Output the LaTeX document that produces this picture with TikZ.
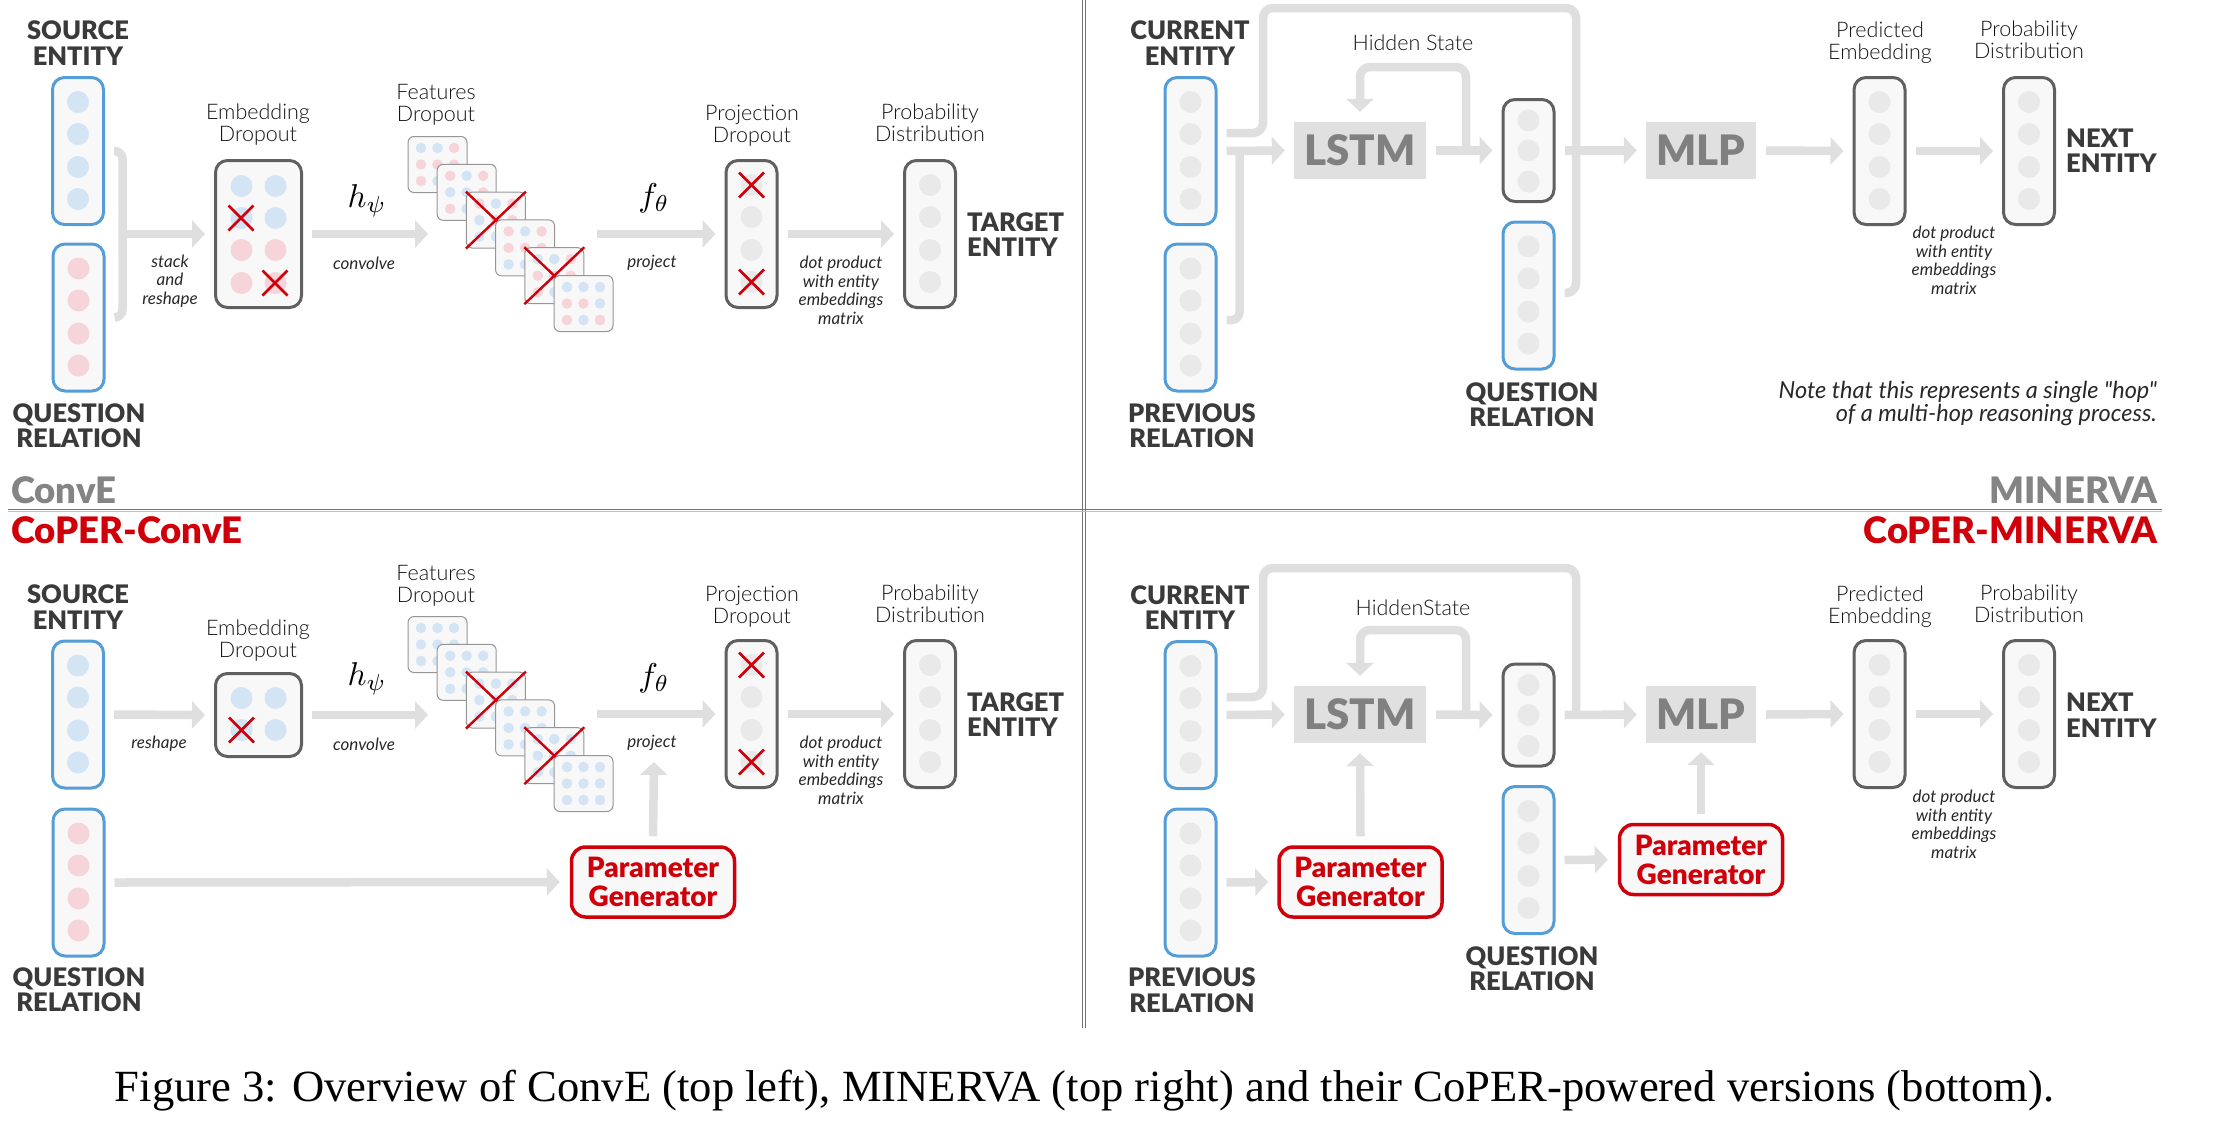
\documentclass[tikz,border=0pt]{standalone}
\usepackage{fontspec}
\usepackage{graphicx}
\setmainfont{Lato}
\newfontfamily\capfont{Liberation Serif}
\newfontfamily\blackfont{Lato Black}
\newfontfamily\lightfont{Lato Light}
\newfontfamily\notefont{Lato}[Ligatures=TeXOff]
\usetikzlibrary{arrows.meta,calc}
\definecolor{eblue}{RGB}{84,157,214}
\definecolor{cB}{RGB}{211,228,245}
\definecolor{cR}{RGB}{246,212,217}
\definecolor{cG}{RGB}{233,233,233}
\definecolor{boxfill}{RGB}{248,248,248}
\definecolor{dgray}{RGB}{96,96,96}
\definecolor{arrg}{RGB}{223,223,223}
\definecolor{cred}{RGB}{208,0,10}
\definecolor{txt}{RGB}{40,40,40}
\definecolor{lbl}{RGB}{20,20,20}
\definecolor{ttl}{RGB}{58,58,58}
\definecolor{lstmf}{RGB}{224,224,224}
\definecolor{lstmt}{RGB}{128,128,128}
\definecolor{hdr}{RGB}{132,132,132}
\definecolor{mapb}{RGB}{150,150,150}
\definecolor{divc}{RGB}{115,115,115}
\newcommand\fourdots[2]{\foreach \o in {-49,-17,16,48}{\fill[#2] ($(#1.center)+(0,\o)$) circle (11pt);}}
\newcommand\threedots[2]{\foreach \o in {-30,0,31}{\fill[#2] ($(#1.center)+(0,\o)$) circle (11pt);}}
\newcommand\redx[2]{\draw[cred,line width=2.6pt] ($(#1,#2)+(-12.5,-12.5)$) -- ($(#1,#2)+(12.5,12.5)$) ($(#1,#2)+(-12.5,12.5)$) -- ($(#1,#2)+(12.5,-12.5)$);}
\newcommand\fmapstack[3]{%
  \foreach \i/\cols/\xx in {#3}{%
    \node[fmap] (#2\i) at ({437.5+29.2*\i},{164.5+27.8*\i+#1}) {};
    \foreach \c [count=\k from 0] in \cols {%
      \pgfmathtruncatemacro\cc{mod(\k,3)}%
      \pgfmathtruncatemacro\rr{div(\k,3)}%
      \fill[\c] ($(#2\i.center)+({(\cc-1)*16.5},{(\rr-1)*16.5})$) circle (5.3pt);
    }
    \ifnum\xx=1 \draw[cred,line width=2.4pt] (#2\i.north west) -- (#2\i.south east) (#2\i.north east) -- (#2\i.south west);\fi
  }}
\begin{document}
\begin{tikzpicture}[x=1pt,y=-1pt,
  vec/.style={draw, rounded corners=12pt, line width=3pt, fill=boxfill, minimum width=51pt, minimum height=147pt, inner sep=0pt},
  bvec/.style={vec, draw=eblue},
  dvec/.style={vec, draw=dgray},
  gar/.style={draw=arrg, line width=8.5pt},
  garr/.style={gar, -{Triangle[length=13pt,width=27pt]}},
  ttlf/.style={font=\blackfont\fontsize{25.5}{25.5}\selectfont, text=ttl, align=center, inner sep=0pt},
  lblf/.style={font=\lightfont\fontsize{21.5}{22}\selectfont, text=lbl, align=center, inner sep=0pt},
  itf/.style={font=\fontsize{17}{18.5}\selectfont\itshape, text=txt, align=center, inner sep=0pt},
  blk/.style={fill=lstmf, text=lstmt, font=\blackfont\fontsize{42}{42}\selectfont, inner sep=0pt, minimum height=57pt},
  pg/.style={draw=cred, line width=3.5pt, rounded corners=14pt, fill=boxfill, text=cred, font=\blackfont\fontsize{28}{29}\selectfont, align=center, inner sep=0pt, minimum width=163pt, minimum height=70pt},
  fmap/.style={draw=mapb, line width=1pt, rounded corners=6pt, fill=boxfill, minimum width=59pt, minimum height=56pt, inner sep=0pt},
  hdrf/.style={font=\blackfont\fontsize{36.5}{36.5}\selectfont, inner sep=0pt},
]
\useasboundingbox (0,0) rectangle (2216,1130);

% ---------- dividers ----------
\draw[divc, line width=0.8pt] (1082.5,0) -- (1082.5,1028);
\draw[divc, line width=0.8pt] (1085.5,0) -- (1085.5,1028);
\draw[divc, line width=1.2pt] (8,509.5) -- (2162,509.5);
\draw[black!25, line width=1pt] (8,511.5) -- (2162,511.5);

\node[hdrf, text=hdr, anchor=base west] (tConvE) at (11,503) {ConvE};
\node[hdrf, text=hdr, anchor=base east] (tMin) at (2158,503) {MINERVA};
\node[hdrf, text=cred, anchor=base west] (tCConvE) at (11,543) {CoPER-ConvE};
\node[hdrf, text=cred, anchor=base east] (tCMin) at (2158,543) {CoPER-MINERVA};

% =================== ConvE (top left) ===================
\node[ttlf] (seT) at (78,43) {SOURCE\\ENTITY};
\node[bvec] (se) at (78,151) {};
\fourdots{se}{cB}
\node[bvec] (qe) at (78.5,317.5) {};
\fourdots{qe}{cR}
\node[ttlf] (qeT) at (79,425.5) {QUESTION\\RELATION};

\node[dvec, minimum width=86pt] (ed) at (258.5,234) {};
\foreach \dx in {-17,17}{
  \foreach \dy in {-48,-16}{\fill[cB] ($(ed.center)+(\dx,\dy)$) circle (11pt);}
  \foreach \dy in {16,49}{\fill[cR] ($(ed.center)+(\dx,\dy)$) circle (11pt);}
}
\redx{241}{218}
\redx{275}{283}
\node[lblf] (edT) at (258,125) {Embedding\\Dropout};
\node[itf] (stk) at (170,281) {stack\\and\\reshape};

\coordinate (brj) at (122.5,234);
\draw[gar, rounded corners=8pt] ($(se.east)+(9,0)$) -| (brj) |- ($(qe.east)+(9,0)$);
\draw[garr] (brj) -- ($(ed.west)+(-9,0)$);

\coordinate (fmin) at (428,234);
\draw[garr] ($(ed.east)+(9,0)$) -- (fmin);
\node (hpsi) at (367,201) {\scalebox{3.3}{$h_\psi$}};
\node[itf] (conv) at (364,263) {convolve};
\node[lblf] (fdT) at (436,105) {Features\\Dropout};

\fmapstack{0}{fa}{0/{cB,cB,cR,cR,cR,cR,cR,cB,cR}/0,1/{cR,cB,cR,cB,cB,cR,cR,cB,cB}/0,2/{cR,cB,cR,cB,cR,cR,cB,cB,cR}/1,3/{cR,cB,cR,cR,cR,cR,cB,cB,cR}/0,4/{cB,cB,cR,cR,cR,cR,cR,cB,cR}/1,5/{cB,cB,cB,cR,cR,cB,cR,cB,cR}/0}

\node[dvec] (pj) at (751.5,234) {};
\fourdots{pj}{cG}
\redx{751.5}{185}
\redx{751.5}{282}
\node[lblf] (pjT) at (752,125.5) {Projection\\Dropout};
\coordinate (fmout) at (597,234);
\draw[garr] (fmout) -- ($(pj.west)+(-9,0)$);
\node (fth) at (654,198) {\scalebox{3.3}{$f_\theta$}};
\node[itf] (proj) at (652,263) {project};

\node[dvec] (pd) at (930,234) {};
\fourdots{pd}{cG}
\node[lblf] (pdT) at (930,123) {Probability\\Distribution};
\draw[garr] ($(pj.east)+(9,0)$) -- ($(pd.west)+(-9,0)$);
\node[itf] (dp) at (841,290.5) {dot product\\with entity\\embeddings\\matrix};
\node[ttlf, align=left, anchor=west] (teT) at (967,234.5) {TARGET\\ENTITY};

% =================== MINERVA (top right) ===================
\node[ttlf] (ceT) at (1190,43) {CURRENT\\ENTITY};
\node[bvec] (ce) at (1190.5,151) {};
\fourdots{ce}{cG}
\node[bvec] (pr) at (1190.5,317.5) {};
\fourdots{pr}{cG}
\node[ttlf] (prT) at (1192,425.5) {PREVIOUS\\RELATION};

\node[blk, minimum width=132pt] (lstm) at (1360,150.5) {LSTM};
\node[dvec, minimum height=102pt] (hid) at (1528.5,150.5) {};
\threedots{hid}{cG}
\node[bvec] (qr) at (1528.5,295.5) {};
\fourdots{qr}{cG}
\node[ttlf] (qrT) at (1532,404.5) {QUESTION\\RELATION};
\node[blk, minimum width=110pt] (mlp) at (1701,150.5) {MLP};
\node[dvec] (pe) at (1879.5,151) {};
\fourdots{pe}{cG}
\node[lblf] (peT) at (1880,43) {Predicted\\Embedding};
\node[dvec] (pd2) at (2029,151) {};
\fourdots{pd2}{cG}
\node[lblf] (pd2T) at (2029,40) {Probability\\Distribution};
\node[ttlf, align=left, anchor=west] (neT) at (2066,150.5) {NEXT\\ENTITY};
\node[itf] (dp2) at (1954,260.5) {dot product\\with entity\\embeddings\\matrix};
\node[lblf] (hsT) at (1413,43) {Hidden State};
\node[font=\notefont\fontsize{23.5}{23.5}\selectfont\itshape, text=txt, align=right, anchor=east, inner sep=0pt] (note) at (2157,403.5) {Note that this represents a single "hop"\\of a multi-hop reasoning process.};

\coordinate (j1) at (1576,151);
\draw[gar, rounded corners=10pt] ($(ce.east)+(9,-18)$) -| (1263,8) -| (j1);
\draw[gar, rounded corners=10pt] ($(qr.east)+(9,-2.5)$) -| (j1);
\draw[gar, rounded corners=8pt] ($(pr.east)+(9,2.5)$) -| (1239.5,151);
\draw[garr] ($(ce.east)+(9,0)$) -- ($(lstm.west)+(-9,0)$);
\draw[garr] ($(lstm.east)+(10,0)$) -- ($(hid.west)+(-9,0)$);
\draw[garr, rounded corners=10pt] (1466,151) |- (1360,67) -- ($(lstm.north)+(0,-10)$);
\draw[garr] ($(hid.east)+(9,0)$) -- ($(mlp.west)+(-9,0)$);
\draw[garr] ($(mlp.east)+(10,0)$) -- ($(pe.west)+(-9,0)$);
\draw[garr] ($(pe.east)+(9,0)$) -- ($(pd2.west)+(-9,0)$);

% =================== CoPER-ConvE (bottom left) ===================
\node[ttlf] (seT2) at (78,607) {SOURCE\\ENTITY};
\node[bvec] (se2) at (78,714.5) {};
\fourdots{se2}{cB}
\node[bvec] (qe2) at (78.5,882.5) {};
\fourdots{qe2}{cR}
\node[ttlf] (qeT2) at (79,989.5) {QUESTION\\RELATION};

\node[dvec, minimum width=86pt, minimum height=83pt] (ed2) at (258.5,715) {};
\foreach \dx in {-17,17}{\foreach \dy in {-17,15}{\fill[cB] ($(ed2.center)+(\dx,\dy)$) circle (11pt);}}
\redx{241.5}{730}
\node[lblf] (edT2) at (258,641) {Embedding\\Dropout};
\draw[garr] ($(se2.east)+(9,0)$) -- ($(ed2.west)+(-9,0)$);
\node[itf] (resh) at (159,744) {reshape};

\coordinate (fmin2) at (428,715);
\draw[garr] ($(ed2.east)+(9,0)$) -- (fmin2);
\node (hpsi2) at (367,679) {\scalebox{3.3}{$h_\psi$}};
\node[itf] (conv2) at (364,744) {convolve};
\node[lblf] (fdT2) at (436,585.5) {Features\\Dropout};

\fmapstack{480}{fb}{0/{cB,cB,cB,cB,cB,cB,cB,cB,cB}/0,1/{cB,cB,cB,cB,cB,cB,cB,cB,cB}/0,2/{cB,cB,cB,cB,cB,cB,cB,cB,cB}/1,3/{cB,cB,cB,cB,cB,cB,cB,cB,cB}/0,4/{cB,cB,cB,cB,cB,cB,cB,cB,cB}/1,5/{cB,cB,cB,cB,cB,cB,cB,cB,cB}/0}

\node[dvec] (pj2) at (751.5,714) {};
\fourdots{pj2}{cG}
\redx{751.5}{665}
\redx{751.5}{762}
\node[lblf] (pjT2) at (752,606.5) {Projection\\Dropout};
\coordinate (fmout2) at (597,714);
\draw[garr] (fmout2) -- ($(pj2.west)+(-9,0)$);
\node (fth2) at (654,678) {\scalebox{3.3}{$f_\theta$}};
\node[itf] (proj2) at (652,743) {project};

\node[dvec] (pd3) at (930,714) {};
\fourdots{pd3}{cG}
\node[lblf] (pdT3) at (930,604) {Probability\\Distribution};
\draw[garr] ($(pj2.east)+(9,0)$) -- ($(pd3.west)+(-9,0)$);
\node[itf] (dp3) at (841,770.5) {dot product\\with entity\\embeddings\\matrix};
\node[ttlf, align=left, anchor=west] (teT2) at (967,714.5) {TARGET\\ENTITY};

\node[pg] (pg1) at (653,882) {Parameter\\Generator};
\coordinate (pgup) at (654,762);
\draw[garr] ($(qe2.east)+(9,0)$) -- ($(pg1.west)+(-10,0)$);
\draw[garr] ($(pg1.north)+(0,-9)$) -- (pgup);

% =================== CoPER-MINERVA (bottom right) ===================
\node[ttlf] (ceT2) at (1190,607.5) {CURRENT\\ENTITY};
\node[bvec] (ce2) at (1190.5,715) {};
\fourdots{ce2}{cG}
\node[bvec] (pr2) at (1190.5,882.5) {};
\fourdots{pr2}{cG}
\node[ttlf] (prT2) at (1192,990) {PREVIOUS\\RELATION};

\node[blk, minimum width=132pt] (lstm2) at (1360,714.5) {LSTM};
\node[dvec, minimum height=102pt] (hid2) at (1528.5,715) {};
\threedots{hid2}{cG}
\node[bvec] (qr2) at (1528.5,860) {};
\fourdots{qr2}{cG}
\node[ttlf] (qrT2) at (1532,968.5) {QUESTION\\RELATION};
\node[blk, minimum width=110pt] (mlp2) at (1701,714.5) {MLP};
\node[dvec] (pe2) at (1879.5,714) {};
\fourdots{pe2}{cG}
\node[lblf] (peT2) at (1880,607) {Predicted\\Embedding};
\node[dvec] (pd4) at (2029,714) {};
\fourdots{pd4}{cG}
\node[lblf] (pd4T) at (2029,604) {Probability\\Distribution};
\node[ttlf, align=left, anchor=west] (neT2) at (2066,715) {NEXT\\ENTITY};
\node[itf] (dp4) at (1954,824.5) {dot product\\with entity\\embeddings\\matrix};
\node[lblf] (hsT2) at (1413,608) {HiddenState};

\node[pg] (pgA) at (1360.5,882) {Parameter\\Generator};
\node[pg] (pgB) at (1701,859.5) {Parameter\\Generator};

\coordinate (j2) at (1576,714.5);
\draw[gar, rounded corners=10pt] ($(ce2.east)+(9,-18)$) -| (1263,568) -| (j2);
\draw[garr] ($(ce2.east)+(9,0)$) -- ($(lstm2.west)+(-9,0)$);
\draw[garr] ($(lstm2.east)+(10,0)$) -- ($(hid2.west)+(-9,0)$);
\draw[garr, rounded corners=10pt] (1466,714.5) |- (1360,630) -- ($(lstm2.north)+(0,-10)$);
\draw[garr] ($(hid2.east)+(9,0)$) -- ($(mlp2.west)+(-9,0)$);
\draw[garr] ($(mlp2.east)+(10,0)$) -- ($(pe2.west)+(-9,0)$);
\draw[garr] ($(pe2.east)+(9,0)$) -- ($(pd4.west)+(-9,0)$);
\draw[garr] ($(pr2.east)+(9,0)$) -- ($(pgA.west)+(-9,0)$);
\draw[garr] ($(pgA.north)+(0,-9)$) -- ($(lstm2.south)+(0,10)$);
\draw[garr] ($(qr2.east)+(9,0)$) -- ($(pgB.west)+(-10,0)$);
\draw[garr] ($(pgB.north)+(0,-9)$) -- ($(mlp2.south)+(0,9)$);

% ---------- caption ----------
\node[font=\capfont\fontsize{44.6}{50}\selectfont, anchor=base, inner sep=0pt] (cap) at (1084.5,1101) {Figure 3: Overview of ConvE (top left), MINERVA (top right) and their CoPER-powered versions (bottom).};
\end{tikzpicture}
\end{document}
